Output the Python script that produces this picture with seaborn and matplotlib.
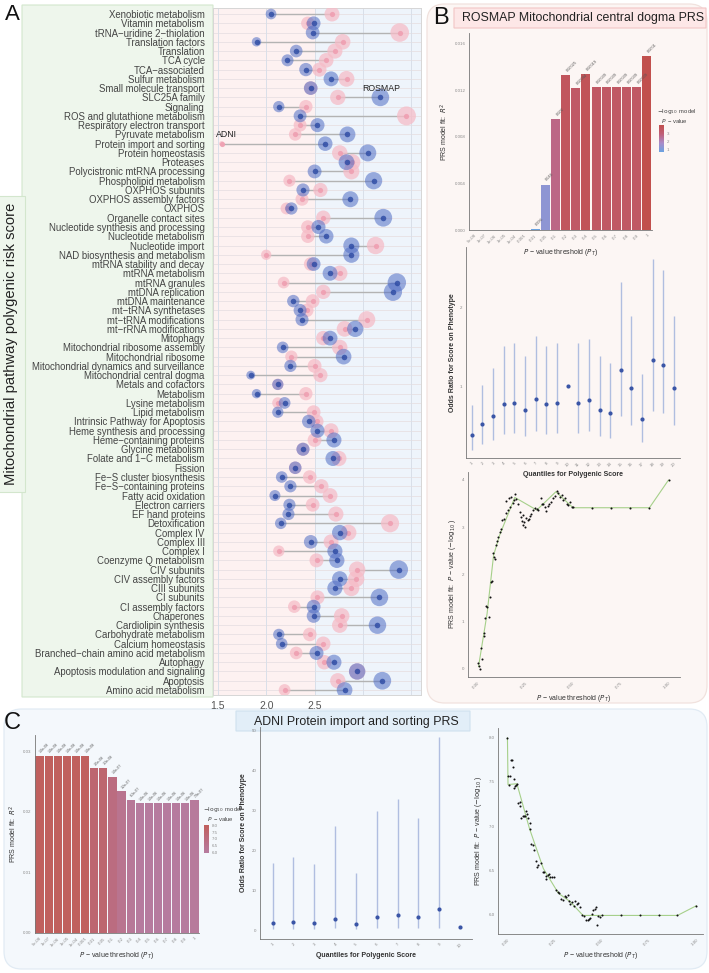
import numpy as np
import pandas as pd
import matplotlib
matplotlib.use("Agg")
import matplotlib.pyplot as plt
import seaborn as sns
from matplotlib.patches import FancyBboxPatch
from matplotlib.colors import LinearSegmentedColormap, Normalize
from matplotlib.cm import ScalarMappable

# ---------------- Panel A data ----------------
pathways = [
    "Xenobiotic metabolism", "Vitamin metabolism", "tRNA\u2212uridine 2\u2212thiolation",
    "Translation factors", "Translation", "TCA cycle", "TCA\u2212associated",
    "Sulfur metabolism", "Small molecule transport", "SLC25A family", "Signaling",
    "ROS and glutathione metabolism", "Respiratory electron transport",
    "Pyruvate metabolism", "Protein import and sorting", "Protein homeostasis",
    "Proteases", "Polycistronic mtRNA processing", "Phospholipid metabolism",
    "OXPHOS subunits", "OXPHOS assembly factors", "OXPHOS", "Organelle contact sites",
    "Nucleotide synthesis and processing", "Nucleotide metabolism", "Nucleotide import",
    "NAD biosynthesis and metabolism", "mtRNA stability and decay", "mtRNA metabolism",
    "mtRNA granules", "mtDNA replication", "mtDNA maintenance", "mt\u2212tRNA synthetases",
    "mt\u2212tRNA modifications", "mt\u2212rRNA modifications", "Mitophagy",
    "Mitochondrial ribosome assembly", "Mitochondrial ribosome",
    "Mitochondrial dynamics and surveillance", "Mitochondrial central dogma",
    "Metals and cofactors", "Metabolism", "Lysine metabolism", "Lipid metabolism",
    "Intrinsic Pathway for Apoptosis", "Heme synthesis and processing",
    "Heme\u2212containing proteins", "Glycine metabolism", "Folate and 1\u2212C metabolism",
    "Fission", "Fe\u2212S cluster biosynthesis", "Fe\u2212S\u2212containing proteins",
    "Fatty acid oxidation", "Electron carriers", "EF hand proteins", "Detoxification",
    "Complex IV", "Complex III", "Complex I", "Coenzyme Q metabolism", "CIV subunits",
    "CIV assembly factors", "CIII subunits", "CI subunits", "CI assembly factors",
    "Chaperones", "Cardiolipin synthesis", "Carbohydrate metabolism",
    "Calcium homeostasis", "Branched\u2212chain amino acid metabolism", "Autophagy",
    "Apoptosis modulation and signaling", "Apoptosis", "Amino acid metabolism",
]
rosmap = [2.05, 2.49, 2.48, 1.90, 2.31, 2.22, 2.41, 2.67, 2.46, 3.18, 2.13, 2.35, 2.53,
          2.84, 2.61, 3.05, 2.83, 2.50, 3.11, 2.38, 2.87, 2.26, 3.21, 2.54, 2.62, 2.88,
          2.88, 2.49, 2.66, 3.35, 3.31, 2.28, 2.35, 2.37, 2.92, 2.66, 2.17, 2.80, 2.25,
          1.84, 2.12, 1.90, 2.19, 2.12, 2.44, 2.53, 2.70, 2.38, 2.69, 2.30, 2.16, 2.25,
          2.09, 2.24, 2.23, 2.15, 2.76, 2.46, 2.71, 2.73, 3.37, 2.76, 2.71, 3.17, 2.49,
          2.49, 3.15, 2.13, 2.16, 2.52, 2.70, 2.94, 3.20, 2.81]
adni = [2.68, 2.43, 3.38, 2.79, 2.71, 2.62, 2.55, 2.83, 2.46, 2.74, 2.41, 3.45, 2.35,
        2.30, 1.54, 2.76, 2.89, 2.88, 2.24, 2.56, 2.37, 2.21, 2.59, 2.43, 2.43, 3.13,
        2.00, 2.46, 2.76, 2.18, 2.59, 2.48, 2.42, 3.04, 2.81, 2.59, 2.76, 2.26, 2.50,
        2.56, 2.12, 2.41, 2.12, 2.49, 2.52, 2.67, 2.50, 2.38, 2.75, 2.30, 2.45, 2.57,
        2.66, 2.48, 2.72, 3.28, 2.85, 2.67, 2.13, 2.52, 2.94, 2.93, 2.88, 2.53, 2.29,
        2.78, 2.76, 2.45, 2.59, 2.31, 2.60, 2.94, 2.74, 2.19]
a_xticks = [1.5, 2.0, 2.5, 3.0, 3.5]
a_xticklabels = ["1.5", "2.0", "2.5", "", ""]

# ---------------- Panel B data ----------------
thresholds = ["5e-08", "1e-07", "1e-06", "1e-05", "1e-04", "0.001", "0.01", "0.05",
              "0.1", "0.2", "0.3", "0.4", "0.5", "0.6", "0.7", "0.8", "0.9", "1"]
b_r2 = [0, 0, 0, 0, 0, 0, 0.00005, 0.0039, 0.0095, 0.0133, 0.0122, 0.0134,
        0.0123, 0.0123, 0.0123, 0.0123, 0.0123, 0.0149]
b_logp = [np.nan] * 6 + [0.002, 1.34, 2.7, 3.6, 3.36, 3.72, 3.41, 3.41, 3.41, 3.41, 3.41, 4.0]
b_plabel = [""] * 6 + ["0.996", "0.046", "0.002", "0.00025", "0.00044", "0.00019",
                       "0.00039", "0.00039", "0.00039", "0.00039", "0.00039", "0.0001"]

b_quant = list(range(1, 21))
b_or = [0.37, 0.51, 0.62, 0.77, 0.79, 0.70, 0.84, 0.77, 0.79, 1.00,
        0.79, 0.82, 0.70, 0.66, 1.20, 0.97, 0.58, 1.34, 1.27, 0.97]
b_or_lo = [0.18, 0.26, 0.31, 0.39, 0.40, 0.36, 0.43, 0.39, 0.40, np.nan,
           0.40, 0.42, 0.36, 0.33, 0.62, 0.50, 0.29, 0.68, 0.65, 0.50]
b_or_hi = [0.76, 1.02, 1.23, 1.51, 1.55, 1.38, 1.64, 1.51, 1.55, np.nan,
           1.55, 1.60, 1.38, 1.30, 2.33, 1.90, 1.15, 2.63, 2.48, 1.90]

b_hr_p = [0.002, 0.007, 0.014, 0.019, 0.025, 0.032, 0.035, 0.040, 0.046, 0.051, 0.058,
          0.063, 0.068, 0.074, 0.081, 0.086, 0.091, 0.098, 0.104, 0.109, 0.116, 0.123,
          0.130, 0.137, 0.147, 0.160, 0.172, 0.186, 0.150, 0.165, 0.177, 0.190, 0.195,
          0.203, 0.210, 0.221, 0.226, 0.231, 0.236, 0.240, 0.245, 0.250, 0.256, 0.262,
          0.268, 0.274, 0.282, 0.291, 0.300, 0.312, 0.318, 0.330, 0.337, 0.344, 0.353,
          0.361, 0.368, 0.375, 0.382, 0.393, 0.405, 0.414, 0.423, 0.432, 0.440, 0.449,
          0.458, 0.467, 0.475, 0.484, 0.493, 0.502, 0.6, 0.7, 0.8, 0.9, 1.0]
b_hr_v = [0.10, 0.05, -0.01, 0.42, 0.20, 0.74, 0.68, 1.06, 1.32, 1.30, 1.09,
          1.52, 1.84, 1.85, 2.44, 2.37, 2.31, 2.62, 2.71, 2.78, 2.90, 2.95,
          3.15, 3.18, 3.30, 3.36, 3.42, 3.52, 3.55, 3.61, 3.64, 3.57, 3.70,
          3.59, 3.49, 3.32, 3.22, 3.12, 3.26, 3.04, 3.10, 3.01, 3.20, 3.14,
          3.18, 3.23, 3.28, 3.36, 3.40, 3.38, 3.37, 3.61, 3.48, 3.50, 3.42,
          3.35, 3.45, 3.50, 3.54, 3.61, 3.66, 3.77, 3.72, 3.64, 3.68, 3.57,
          3.61, 3.50, 3.47, 3.54, 3.43, 3.42, 3.41, 3.41, 3.41, 3.41, 4.0]
b_line_p = [0.005, 0.05, 0.084, 0.116, 0.195, 0.31, 0.41, 0.5, 0.6, 0.7, 0.8, 0.9, 1.0]
b_line_v = [0.03, 1.16, 2.40, 2.83, 3.63, 3.36, 3.75, 3.41, 3.41, 3.41, 3.41, 3.41, 4.0]

# ---------------- Panel C data ----------------
c_r2 = [0.0293] * 6 + [0.0272, 0.0273, 0.0258, 0.0234, 0.0220] + [0.0214] * 6 + [0.0219]
c_logp = [8.0] * 6 + [7.46, 7.48, 7.0, 6.5, 6.2] + [6.0] * 6 + [6.1]
c_plabel = ["1.0e-08"] * 6 + ["3.5e-08", "3.3e-08", "1.0e-07", "3.2e-07", "6.3e-07"] + \
           ["1.0e-06"] * 6 + ["7.9e-07"]

c_quant = list(range(1, 11))
c_or = [2.0, 2.1, 2.0, 2.8, 1.7, 3.5, 3.8, 3.3, 5.5, 1.0]
c_or_lo = [0.3, 0.3, 0.3, 0.6, 0.3, 0.6, 0.6, 0.6, 0.7, np.nan]
c_or_hi = [16.9, 18.4, 16.7, 26.3, 14.4, 29.9, 32.9, 28.2, 48.5, np.nan]

c_hr_p = [0.0, 0.005, 0.014, 0.009, 0.018, 0.023, 0.028, 0.036, 0.041, 0.046, 0.050,
          0.037, 0.055, 0.064, 0.067, 0.071, 0.080, 0.085, 0.094, 0.099, 0.106, 0.111,
          0.117, 0.117, 0.126, 0.133, 0.138, 0.149, 0.156, 0.164, 0.179, 0.188, 0.195,
          0.202, 0.205, 0.212, 0.218, 0.226, 0.235, 0.244, 0.258, 0.265, 0.272, 0.283,
          0.294, 0.304, 0.311, 0.318, 0.325, 0.332, 0.341, 0.350, 0.359, 0.368, 0.376,
          0.385, 0.394, 0.406, 0.416, 0.424, 0.431, 0.438, 0.445, 0.452, 0.461, 0.468,
          0.473, 0.481, 0.491, 0.5, 0.6, 0.7, 0.8, 0.9, 1.0]
c_hr_v = [8.0, 7.57, 7.57, 7.46, 7.75, 7.75, 7.67, 7.53, 7.45, 7.47, 7.48,
          7.43, 7.26, 7.27, 7.23, 7.09, 7.11, 7.12, 7.11, 7.17, 7.14, 7.09,
          7.04, 6.97, 6.80, 6.79, 6.73, 6.61, 6.54, 6.56, 6.58, 6.48, 6.48,
          6.44, 6.40, 6.45, 6.46, 6.43, 6.43, 6.43, 6.28, 6.26, 6.24, 6.18,
          6.17, 6.21, 6.20, 6.22, 6.15, 6.12, 6.14, 6.10, 6.15, 6.12, 6.13,
          6.09, 5.99, 5.98, 5.94, 5.94, 5.95, 5.96, 6.01, 6.05, 6.06, 6.09,
          5.88, 5.98, 5.97, 5.99, 5.99, 5.99, 5.99, 5.99, 6.10]
c_line_p = [0.0, 0.003, 0.05, 0.117, 0.19, 0.27, 0.33, 0.4, 0.5, 0.6, 0.7, 0.8, 0.9, 1.0]
c_line_v = [8.0, 7.47, 7.48, 6.97, 6.52, 6.24, 6.15, 5.99, 5.99, 5.99, 5.99, 5.99, 5.99, 6.10]

# ---------------- setup ----------------
sns.set_style("white")
plt.rcParams["font.family"] = ["Liberation Sans", "DejaVu Sans"]
plt.rcParams["axes.unicode_minus"] = True

W, H = 709, 973
fig = plt.figure(figsize=(W / 100, H / 100), dpi=100)
fig.patch.set_facecolor("white")


def rect(x0, y0, x1, y1):
    return [x0 / W, 1 - y1 / H, (x1 - x0) / W, (y1 - y0) / H]


def fig_box(x0, y0, x1, y1, fc, ec, rounding=0.0, lw=0.8, z=-10):
    p = FancyBboxPatch((x0 / W, 1 - y1 / H), (x1 - x0) / W, (y1 - y0) / H,
                       boxstyle=f"round,pad=0,rounding_size={rounding}",
                       mutation_aspect=W / H, transform=fig.transFigure,
                       fc=fc, ec=ec, lw=lw, zorder=z)
    fig.patches.append(p)


TICK_C = "#8a8a8a"
LAB_C = "#333333"


def style_axis(ax):
    sns.despine(ax=ax)
    for s in ("left", "bottom"):
        ax.spines[s].set_color("#777")
        ax.spines[s].set_linewidth(0.6)
    ax.tick_params(axis="both", labelsize=3.2, colors=TICK_C, length=1.5, width=0.4, pad=1)


# ---------------- Panel A ----------------
fig_box(22, 5, 213, 697, "#eef6ec", "#d3e6cd", 0.0, 0.8)
axA = fig.add_axes(rect(213, 8, 421, 695))
axA.set_facecolor("none")
A_XMIN, A_XMAX = 1.45, 3.6
axA.axvspan(A_XMIN, 2.5, color="#fdf1f1", zorder=0, lw=0)
axA.axvspan(2.5, A_XMAX, color="#eef4fb", zorder=0, lw=0)

dfa = pd.DataFrame({"pathway": pathways, "ROSMAP": rosmap, "ADNI": adni})
n = len(pathways)
ypos = np.arange(n)
for yy in ypos:
    axA.axhline(yy, color="#e8e0e3", lw=0.6, zorder=1)
for xx in a_xticks:
    axA.axvline(xx, color="#d9dfe9", lw=0.7, zorder=1)
axA.hlines(ypos, np.minimum(dfa["ROSMAP"], dfa["ADNI"]), np.maximum(dfa["ROSMAP"], dfa["ADNI"]),
           color="#b3b3b3", lw=1.0, zorder=2)

size_kw = dict(sizes=(10, 190), size_norm=(1.5, 3.5), legend=False, linewidth=0, ax=axA)
sns.scatterplot(data=dfa, x="ADNI", y="pathway", size="ADNI", color="#f6bcc7", alpha=0.75,
                zorder=3, **size_kw)
sns.scatterplot(data=dfa, x="ADNI", y="pathway", s=14, color="#ef9fb1", alpha=0.9,
                linewidth=0, legend=False, ax=axA, zorder=4)
sns.scatterplot(data=dfa, x="ROSMAP", y="pathway", size="ROSMAP", color="#4f6cc4", alpha=0.55,
                zorder=5, **size_kw)
sns.scatterplot(data=dfa, x="ROSMAP", y="pathway", s=16, color="#2b49a3", alpha=0.8,
                linewidth=0, legend=False, ax=axA, zorder=6)

axA.text(3.19, 8, "ROSMAP", fontsize=6.3, ha="center", va="center", color="#222", zorder=7)
axA.text(1.59, 13, "ADNI", fontsize=6.3, ha="center", va="center", color="#222", zorder=7)

axA.set_xlim(A_XMIN, A_XMAX)
axA.set_ylim(n - 1 + 0.54, -0.65)
axA.set_xticks(a_xticks)
axA.set_xticklabels(a_xticklabels)
axA.tick_params(axis="x", labelsize=7.5, colors="#555555", length=0, pad=4)
axA.tick_params(axis="y", labelsize=6.9, colors="#444444", length=0, pad=6)
axA.set_xlabel("")
axA.set_ylabel("")
for s in axA.spines.values():
    s.set_color("#d6d6d6")
    s.set_linewidth(0.7)

fig.text(11 / W, 1 - 344 / H, "Mitochondrial pathway polygenic risk score", rotation=90,
         fontsize=10.6, ha="center", va="center", color="#222",
         bbox=dict(boxstyle="square,pad=0.45", fc="#eef6ec", ec="#d3e6cd", lw=0.8))
fig.text(5 / W, 1 - 15 / H, "A", fontsize=16, ha="left", va="center", color="#111")

# ---------------- Panel B ----------------
fig_box(427, 4, 707, 703, "#fcf6f4", "#f1e2de", 0.025, 0.9)
fig_box(454, 8, 706, 28, "#fde7e7", "#f2c5c5", 0.0, 0.8, z=-9)
fig.text(433 / W, 1 - 18 / H, "B", fontsize=17, ha="left", va="center", color="#111")
fig.text(583 / W, 1 - 18.5 / H, "ROSMAP Mitochondrial central dogma PRS", fontsize=8.9,
         ha="center", va="center", color="#222")

cmapB = LinearSegmentedColormap.from_list("b", ["#6aa2e0", "#a98bc9", "#c05f78", "#c1504d"])
normB = Normalize(vmin=0.7, vmax=4.0)
colB = [cmapB(normB(v)) if not np.isnan(v) else "#cccccc" for v in b_logp]

axB1 = fig.add_axes(rect(469, 33, 652, 230))
axB1.set_facecolor("none")
sns.barplot(x=thresholds, y=b_r2, hue=thresholds, palette=colB, legend=False, saturation=1,
            width=0.9, linewidth=0, ax=axB1)
for i, (v, lab) in enumerate(zip(b_r2, b_plabel)):
    if lab:
        axB1.text(i, v + 0.0002, lab, rotation=45, fontsize=2.8, ha="left", va="bottom",
                  color="#555")
axB1.set_xlim(-0.5, len(thresholds) - 0.5)
axB1.set_ylim(0, 0.0169)
axB1.set_yticks([0, 0.004, 0.008, 0.012, 0.016])
axB1.set_yticklabels(["0.000", "0.004", "0.008", "0.012", "0.016"])
style_axis(axB1)
plt.setp(axB1.get_xticklabels(), rotation=45, ha="right", rotation_mode="anchor")
axB1.set_xlabel("$P$ \u2212 value threshold ($P_T$)", fontsize=5, color=LAB_C, labelpad=2)
axB1.set_ylabel("PRS model fit:  $R^2$", fontsize=5, color=LAB_C, labelpad=3)

caxB = fig.add_axes(rect(659, 125, 664, 152))
cbB = fig.colorbar(ScalarMappable(norm=normB, cmap=cmapB), cax=caxB)
cbB.set_ticks([1, 2, 3])
cbB.outline.set_visible(False)
caxB.tick_params(labelsize=3.2, colors=TICK_C, length=0, pad=2)
fig.text(657 / W, 1 - 116 / H, "$-\\log_{10}$ model\n   $P$ \u2212 value", fontsize=4.2,
         ha="left", va="center", color="#444", linespacing=1.1)

# B quantile plot
axB2 = fig.add_axes(rect(466, 247, 680, 458))
axB2.set_facecolor("none")
axB2.vlines(b_quant, b_or_lo, b_or_hi, color="#b0bee0", lw=1.0, zorder=1)
sns.scatterplot(x=b_quant, y=b_or, color="#3a55a6", s=9, linewidth=0, ax=axB2, zorder=2)
axB2.set_xlim(0.46, 20.56)
axB2.set_ylim(0.08, 2.78)
axB2.set_xticks(b_quant)
axB2.set_yticks([1, 2])
style_axis(axB2)
plt.setp(axB2.get_xticklabels(), rotation=45, ha="right", rotation_mode="anchor")
axB2.set_xlabel("Quantiles for Polygenic Score", fontsize=5, fontweight="bold", color=LAB_C,
                labelpad=2)
axB2.set_ylabel("Odds Ratio for Score on Phenotype", fontsize=5, fontweight="bold",
                color=LAB_C, labelpad=3)

# B high-resolution plot
axB3 = fig.add_axes(rect(468, 472, 680, 677))
axB3.set_facecolor("none")
sns.lineplot(x=b_line_p, y=b_line_v, color="#a6d08a", lw=0.8, ax=axB3, zorder=1, sort=False)
sns.scatterplot(x=b_hr_p, y=b_hr_v, color="#111", s=2.2, linewidth=0, ax=axB3, zorder=2)
axB3.set_xlim(-0.05, 1.06)
axB3.set_ylim(-0.19, 4.17)
axB3.set_xticks([0, 0.25, 0.5, 0.75, 1.0])
axB3.set_xticklabels(["0.00", "0.25", "0.50", "0.75", "1.00"])
axB3.set_yticks([0, 1, 2, 3, 4])
style_axis(axB3)
plt.setp(axB3.get_xticklabels(), rotation=45, ha="right", rotation_mode="anchor")
axB3.set_xlabel("$P$ \u2212 value threshold ($P_T$)", fontsize=5, color=LAB_C, labelpad=3)
axB3.set_ylabel("PRS model fit:  $P$ \u2212 value ($-\\log_{10}$)", fontsize=5, color=LAB_C,
                labelpad=3)

# ---------------- Panel C ----------------
fig_box(4, 709, 707, 969, "#f4f8fc", "#e1ebf4", 0.025, 0.9)
fig_box(236, 711, 470, 731, "#e2eef8", "#cfe1ef", 0.0, 0.8, z=-9)
fig.text(4 / W, 1 - 723 / H, "C", fontsize=17, ha="left", va="center", color="#111")
fig.text(356 / W, 1 - 721.5 / H, "ADNI Protein import and sorting PRS", fontsize=8.9,
         ha="center", va="center", color="#222")

cmapC = LinearSegmentedColormap.from_list("c", ["#b67c9f", "#bb6c80", "#c05f5c"])
normC = Normalize(vmin=5.95, vmax=8.05)
colC = [cmapC(normC(v)) for v in c_logp]

axC1 = fig.add_axes(rect(35, 735, 199, 933))
axC1.set_facecolor("none")
sns.barplot(x=thresholds, y=c_r2, hue=thresholds, palette=colC, legend=False, saturation=1,
            width=0.9, linewidth=0, ax=axC1)
for i, (v, lab) in enumerate(zip(c_r2, c_plabel)):
    axC1.text(i - 0.1, v + 0.0003, lab, rotation=45, fontsize=2.6, ha="left", va="bottom",
              color="#555")
axC1.set_xlim(-0.5, len(thresholds) - 0.5)
axC1.set_ylim(0, 0.0327)
axC1.set_yticks([0, 0.01, 0.02, 0.03])
axC1.set_yticklabels(["0.00", "0.01", "0.02", "0.03"])
style_axis(axC1)
plt.setp(axC1.get_xticklabels(), rotation=45, ha="right", rotation_mode="anchor")
axC1.set_xlabel("$P$ \u2212 value threshold ($P_T$)", fontsize=5, color=LAB_C, labelpad=2)
axC1.set_ylabel("PRS model fit:  $R^2$", fontsize=5, color=LAB_C, labelpad=3)

caxC = fig.add_axes(rect(204, 825, 209, 853))
cbC = fig.colorbar(ScalarMappable(norm=normC, cmap=cmapC), cax=caxC)
cbC.set_ticks([6.0, 6.5, 7.0, 7.5, 8.0])
cbC.set_ticklabels(["6.0", "6.5", "7.0", "7.5", "8.0"])
cbC.outline.set_visible(False)
caxC.tick_params(labelsize=3.2, colors=TICK_C, length=0, pad=2)
fig.text(203 / W, 1 - 814 / H, "$-\\log_{10}$ model\n   $P$ \u2212 value", fontsize=4.2,
         ha="left", va="center", color="#444", linespacing=1.1)

# C quantile plot
axC2 = fig.add_axes(rect(260, 727, 472, 939))
axC2.set_facecolor("none")
axC2.vlines(c_quant, c_or_lo, c_or_hi, color="#b0bee0", lw=1.0, zorder=1)
sns.scatterplot(x=c_quant, y=c_or, color="#3a55a6", s=9, linewidth=0, ax=axC2, zorder=2)
axC2.set_xlim(0.39, 10.58)
axC2.set_ylim(-2.1, 51)
axC2.set_xticks(c_quant)
axC2.set_yticks([0, 10, 20, 30, 40, 50])
style_axis(axC2)
plt.setp(axC2.get_xticklabels(), rotation=45, ha="right", rotation_mode="anchor")
axC2.set_xlabel("Quantiles for Polygenic Score", fontsize=5, fontweight="bold", color=LAB_C,
                labelpad=2)
axC2.set_ylabel("Odds Ratio for Score on Phenotype", fontsize=5, fontweight="bold",
                color=LAB_C, labelpad=3)

# C high-resolution plot
axC3 = fig.add_axes(rect(498, 728, 703, 934))
axC3.set_facecolor("none")
sns.lineplot(x=c_line_p, y=c_line_v, color="#a6d08a", lw=0.8, ax=axC3, zorder=1, sort=False)
sns.scatterplot(x=c_hr_p, y=c_hr_v, color="#111", s=2.2, linewidth=0, ax=axC3, zorder=2)
axC3.set_xlim(-0.05, 1.035)
axC3.set_ylim(5.78, 8.11)
axC3.set_xticks([0, 0.25, 0.5, 0.75, 1.0])
axC3.set_xticklabels(["0.00", "0.25", "0.50", "0.75", "1.00"])
axC3.set_yticks([6.0, 6.5, 7.0, 7.5, 8.0])
style_axis(axC3)
plt.setp(axC3.get_xticklabels(), rotation=45, ha="right", rotation_mode="anchor")
axC3.set_xlabel("$P$ \u2212 value threshold ($P_T$)", fontsize=5, color=LAB_C, labelpad=3)
axC3.set_ylabel("PRS model fit:  $P$ \u2212 value ($-\\log_{10}$)", fontsize=5, color=LAB_C,
                labelpad=3)

fig.savefig("out.png", dpi=100, facecolor="white")
